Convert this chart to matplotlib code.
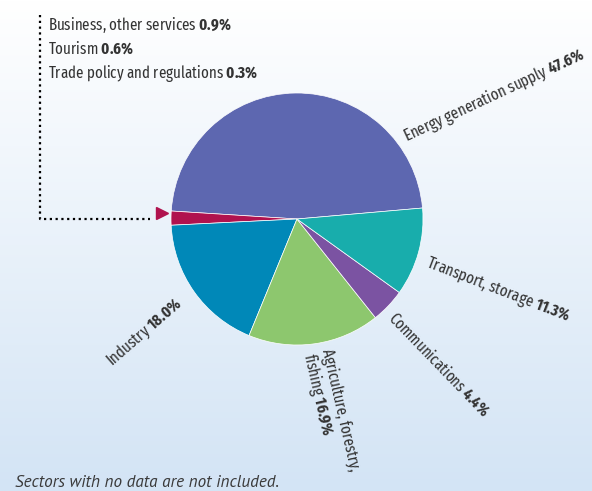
import numpy as np
import matplotlib
matplotlib.use("Agg")
import matplotlib.pyplot as plt
from matplotlib.colors import LinearSegmentedColormap

plt.rcParams['font.family'] = ['Fira Sans Extra Condensed', 'PT Sans Narrow', 'Liberation Sans', 'DejaVu Sans']
plt.rcParams['mathtext.fontset'] = 'custom'
plt.rcParams['mathtext.rm'] = 'Fira Sans Extra Condensed'
plt.rcParams['mathtext.bf'] = 'Fira Sans Extra Condensed:bold'

# data (percent), counter-clockwise order
sectors = ["Energy generation supply", "Other (business, tourism, trade)", "Industry",
           "Agriculture, forestry,\nfishing", "Communications", "Transport, storage"]
shares = [47.6, 1.8, 18.0, 16.9, 4.4, 11.3]
colors = ["#5d67b0", "#b0124e", "#0088b8", "#8dc76e", "#7b53a2", "#18adac"]

small_names = ["Business, other services", "Tourism", "Trade policy and regulations"]
small_shares = [0.9, 0.6, 0.3]

note = "Sectors with no data are not included."

W, H = 592, 491
fig = plt.figure(figsize=(W / 100, H / 100), dpi=100)
ax = fig.add_axes([0, 0, 1, 1])

# background gradient white (top) -> light blue (bottom)
grad = np.linspace(0, 1, 256).reshape(-1, 1)
cmap = LinearSegmentedColormap.from_list("bg", ["#ffffff", "#d3e4f5"])
ax.imshow(grad, extent=[0, W, 0, H], aspect='auto', cmap=cmap, origin='upper', zorder=0)

def py(y):  # pixel y (from top) -> data y
    return H - y

ax.pie(shares, colors=colors, startangle=5, counterclock=True,
       center=(297, py(219)), radius=126,
       wedgeprops=dict(edgecolor='white', linewidth=0.5, zorder=2))
ax.set_xlim(0, W)
ax.set_ylim(0, H)
ax.set_aspect('auto')
ax.axis('off')

txtcol = "#333333"
fs = 11.7

def lbl(name, val):
    return name + " $\\bf{" + f"{val:.1f}" + "\\%}$"

# pie labels: (x, y from top, rotation, ha, va)
layout = [(406, 142, 25, 'left', 'baseline'),
          None,
          (112, 367, 41, 'left', 'baseline'),
          (335, 347, -77, 'left', 'top'),
          (388, 318, -46, 'left', 'baseline'),
          (425, 266, -21, 'left', 'baseline')]
for name, val, pos in zip(sectors, shares, layout):
    if pos is None:
        continue
    x, y, rot, ha, va = pos
    ax.text(x, py(y), lbl(name, val), rotation=rot, rotation_mode='anchor',
            ha=ha, va=va, fontsize=fs, color=txtcol, linespacing=1.0, zorder=5)

# small sectors list
for i, (name, val) in enumerate(zip(small_names, small_shares)):
    ax.text(48, py(30 + i * 24), lbl(name, val), fontsize=fs, color=txtcol,
            ha='left', va='baseline', zorder=5)

# dotted leader line with arrow
ax.plot([40, 40, 150], [py(15), py(219), py(219)], color='black',
        linestyle=(0, (1, 1.6)), linewidth=1.6, zorder=4)
ax.plot([162], [py(213)], marker='>', color='#b0124e', markersize=8, zorder=4)

ax.text(15, py(487), note, fontsize=12.3, style='italic', family=['PT Sans', 'Lato', 'DejaVu Sans'],
        color='#3a3a3a', ha='left', va='baseline')

fig.savefig("out.png", dpi=100)
